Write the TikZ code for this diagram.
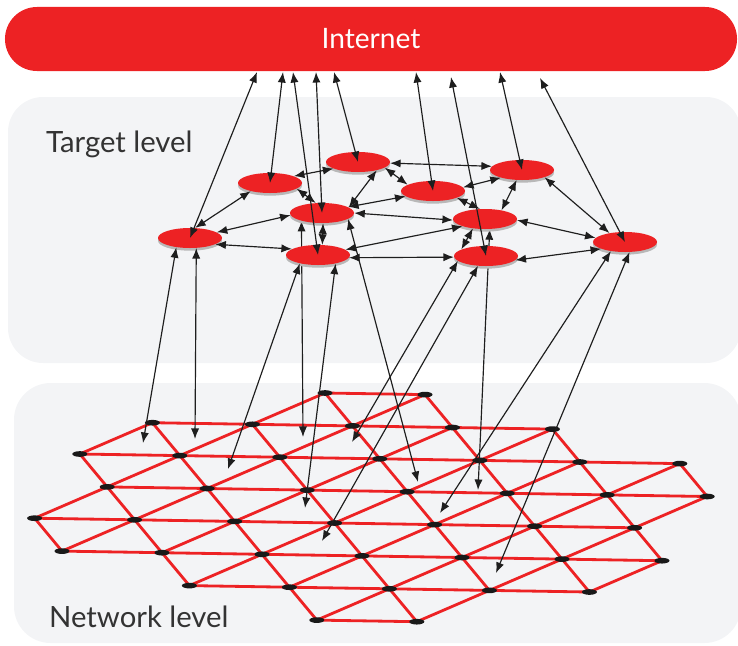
\documentclass[tikz,border=0pt]{standalone}
\usepackage{fontspec}
\setmainfont{Lato}
\usetikzlibrary{arrows.meta,shapes.geometric,shadows}
\definecolor{netred}{RGB}{237,34,36}
\definecolor{panelgray}{RGB}{243,244,246}
\definecolor{labelgray}{RGB}{51,51,51}
\definecolor{arrowgray}{RGB}{30,30,30}
\pgfdeclarelayer{back}
\pgfdeclarelayer{mid}
\pgfsetlayers{back,mid,main}

\begin{document}
\begin{tikzpicture}[x=0.03cm, y=-0.03cm,
  tnode/.style={ellipse, fill=netred, minimum width=1.92cm, minimum height=0.6cm, inner sep=0pt,
    drop shadow={shadow xshift=0pt, shadow yshift=-0.08cm, fill=black!28, opacity=1}},
  inetbar/.style={rectangle, rounded corners=0.96cm, fill=netred, text=white, minimum width=21.96cm,
    minimum height=1.92cm, font=\fontsize{24}{28}\selectfont},
  gridline/.style={draw=netred, line width=2.4pt},
  gdot/.style={ellipse, fill=black!90, minimum width=0.45cm, minimum height=0.17cm, inner sep=0pt},
  conn/.style={arrowgray, line width=1pt, {Latex[length=9pt,width=7pt]}-{Latex[length=9pt,width=7pt]}},
  lvltext/.style={anchor=base west, text=labelgray, font=\fontsize{25}{30}\selectfont}]
	\useasboundingbox (0,0) rectangle (738,645);
	\begin{pgfonlayer}{back}
	\fill[panelgray, rounded corners=1.05cm] (8,97) rectangle (741,363);
	\fill[panelgray, rounded corners=1.1cm] (14,383) rectangle (741,643);
	\node[lvltext] (tlabel) at (42,152) {Target level};
	\node[lvltext] (nlabel) at (45,627) {Network level};
	\node[inetbar] (inet) at (371,39) {Internet};
	% network lattice
	\foreach \j/\pa/\pb in {0/4/5,1/2/6,2/1/7,3/1/7,4/0/6,5/0/6,6/1/5,7/2/3}
	  \foreach \p in {\pa,...,\pb}
	    \coordinate (g-\p-\j) at ({-75+100*\p+27.4*\j},{386.6+1.6*\p+32.9*\j});
	\foreach \j/\pa/\pb in {0/4/5,1/2/6,2/1/7,3/1/7,4/0/6,5/0/6,6/1/5,7/2/3}
	  \draw[gridline] (g-\pa-\j) -- (g-\pb-\j);
	\foreach \p/\ja/\jb in {0/4/5,1/2/6,2/1/7,3/1/7,4/0/6,5/0/6,6/1/5,7/2/3}
	  \draw[gridline] (g-\p-\ja) -- (g-\p-\jb);
	\foreach \pa/\ja/\pb/\jb in {2/1/1/2,4/0/0/4,5/0/0/5,5/1/1/5,6/1/1/6,6/2/2/6,7/2/2/7,7/3/3/7,6/5/5/6}
	  \draw[gridline] (g-\pa-\ja) -- (g-\pb-\jb);
	\foreach \j/\pa/\pb in {0/4/5,1/2/6,2/1/7,3/1/7,4/0/6,5/0/6,6/1/5,7/2/3}
	  \foreach \p in {\pa,...,\pb}
	    \node[gdot] (n-\p-\j) at (g-\p-\j) {};
	\end{pgfonlayer}
	% target level
	\node[tnode] (t1) at (190,238) {};
	\node[tnode] (t2) at (270,183) {};
	\node[tnode] (t3) at (358,162) {};
	\node[tnode] (t4) at (322,213) {};
	\node[tnode] (t5) at (318,255) {};
	\node[tnode] (t6) at (433,191) {};
	\node[tnode] (t7) at (522,170) {};
	\node[tnode] (t8) at (485,219) {};
	\node[tnode] (t9) at (486,256) {};
	\node[tnode] (t10) at (625,242) {};
	% ends on the internet bar and in the lattice
	\foreach \k/\x/\y in {1/257/72,2/283/72,3/293/72,4/316/72,5/334/72,6/416/72,7/451/77,8/500/72,9/540/78}
	  \coordinate (u\k) at (\x,\y);
	\foreach \k/\x/\y in {1/143/443,2/195/439,3/228/469,4/303/437,5/305/508,6/418/482,7/352/442,8/322/541,9/478/490,10/440/513,11/496/573}
	  \coordinate (d\k) at (\x,\y);
	% links hidden behind t5 and t9
	\begin{pgfonlayer}{mid}
	\draw[conn] (t4.201) -- (d4);
	\draw[conn] (t8.295) -- (d9);
	\end{pgfonlayer}
	% internet links
	\draw[conn] (u1) -- (t1.center);
	\draw[conn] (u2) -- (t2.center);
	\draw[conn] (u3) -- (t5.center);
	\draw[conn] (u4) -- (t4.center);
	\draw[conn] (u5) -- (t3.center);
	\draw[conn] (u6) -- (t6.center);
	\draw[conn] (u7) -- (t9.center);
	\draw[conn] (u8) -- (t7.center);
	\draw[conn] (u9) -- (t10.center);
	% target links
	\draw[conn] (t1.63) -- (t2.203);
	\draw[conn] (t1.12) -- (t4.184);
	\draw[conn] (t1.346) -- (t5.167);
	\draw[conn] (t2.348) -- (t4.122);
	\draw[conn] (t2.16) -- (t3.195);
	\draw[conn] (t3.336) -- (t4.12);
	\draw[conn] (t3.358) -- (t7.173);
	\draw[conn] (t3.348) -- (t6.166);
	\draw[conn] (t4.13) -- (t6.191);
	\draw[conn] (t4.0) -- (t8.182);
	\draw[conn] (t4.276) -- (t5.67);
	\draw[conn] (t5.11) -- (t8.198);
	\draw[conn] (t5.355) -- (t9.182);
	\draw[conn] (t6.7) -- (t7.200);
	\draw[conn] (t6.344) -- (t8.117);
	\draw[conn] (t7.242) -- (t8.28);
	\draw[conn] (t8.218) -- (t9.165);
	\draw[conn] (t7.342) -- (t10.150);
	\draw[conn] (t8.358) -- (t10.172);
	\draw[conn] (t9.352) -- (t10.196);
	% network links
	\draw[conn] (t1.214) -- (d1);
	\draw[conn] (t1.302) -- (d2);
	\draw[conn] (t5.205) -- (d3);
	\draw[conn] (t5.334) -- (d5);
	\draw[conn] (t4.347) -- (d6);
	\draw[conn] (t9.190) -- (d7);
	\draw[conn] (t9.231) -- (d8);
	\draw[conn] (t10.213) -- (d10);
	\draw[conn] (t10.294) -- (d11);
\end{tikzpicture}
\end{document}
